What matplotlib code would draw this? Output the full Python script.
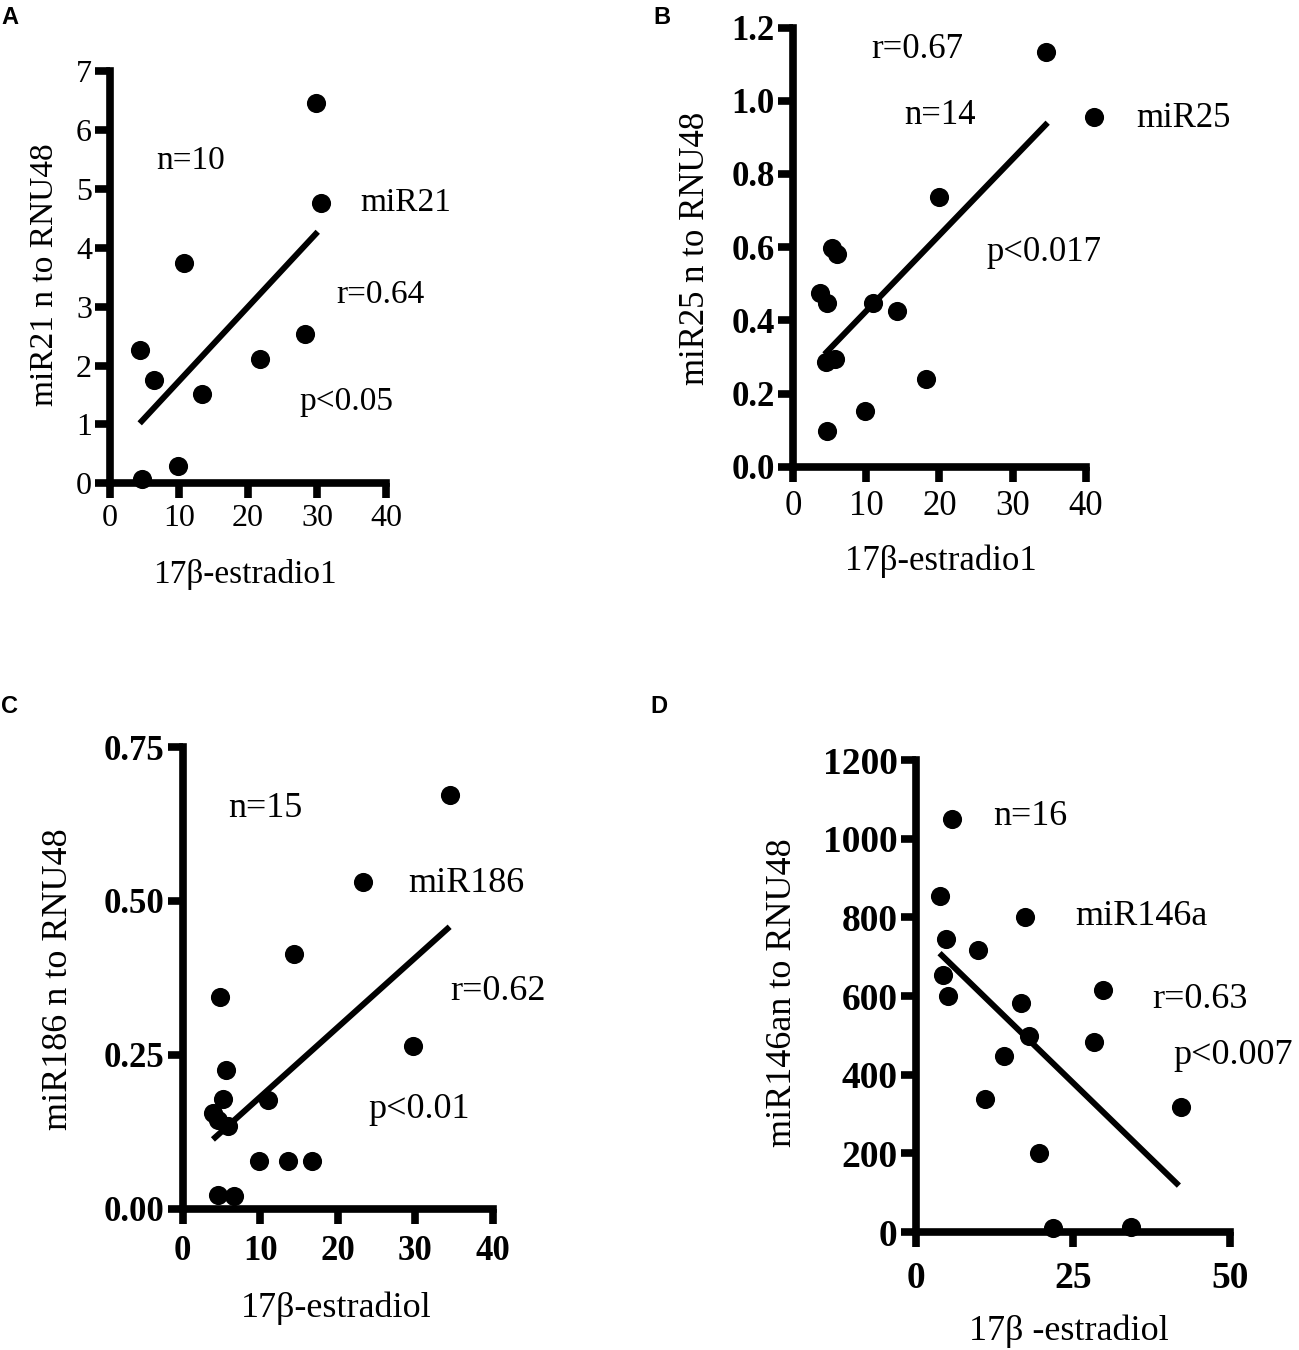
import matplotlib
matplotlib.use("Agg")
import matplotlib.pyplot as plt
import numpy as np

# ---------------- data ----------------
# Panel A: miR21
a_x = [29.9, 30.6, 10.7, 4.3, 6.3, 13.4, 21.7, 28.3, 9.8, 4.6]
a_y = [6.45, 4.76, 3.74, 2.27, 1.75, 1.51, 2.11, 2.53, 0.29, 0.08]
a_fit_x = [4.3, 30.1]
a_fit_y = [1.02, 4.27]

# Panel B: miR25
b_x = [34.6, 41.1, 19.9, 5.3, 6.0, 3.7, 4.7, 10.9, 14.2, 4.5, 5.8, 18.2, 9.8, 4.7]
b_y = [1.134, 0.956, 0.738, 0.597, 0.582, 0.474, 0.448, 0.448, 0.425, 0.286, 0.293, 0.239, 0.152, 0.097]
b_fit_x = [4.3, 34.8]
b_fit_y = [0.307, 0.94]

# Panel C: miR186
c_x = [34.4, 23.2, 14.3, 4.8, 29.7, 5.6, 5.2, 11.0, 3.9, 4.5, 5.9, 9.9, 13.6, 16.7, 4.5, 6.6]
c_y = [0.672, 0.530, 0.413, 0.344, 0.264, 0.226, 0.178, 0.176, 0.156, 0.144, 0.135, 0.078, 0.078, 0.078, 0.022, 0.021]
c_fit_x = [3.9, 34.4]
c_fit_y = [0.1125, 0.458]

# Panel D: miR146a
d_x = [5.8, 3.8, 17.4, 4.8, 9.9, 4.4, 5.2, 29.9, 16.7, 18.0, 14.0, 28.4, 11.0, 42.3, 19.6, 21.9, 34.3]
d_y = [1051, 855, 801, 745, 717, 654, 600, 616, 582, 499, 448, 484, 339, 317, 200, 10, 13]
d_fit_x = [3.8, 41.9]
d_fit_y = [709, 118]

a_yticks = [0, 1, 2, 3, 4, 5, 6, 7]
a_xticks = [0, 10, 20, 30, 40]
b_yticks = [0.0, 0.2, 0.4, 0.6, 0.8, 1.0, 1.2]
b_ytick_labels = ["0.0", "0.2", "0.4", "0.6", "0.8", "1.0", "1.2"]
b_xticks = [0, 10, 20, 30, 40]
c_yticks = [0.0, 0.25, 0.5, 0.75]
c_ytick_labels = ["0.00", "0.25", "0.50", "0.75"]
c_xticks = [0, 10, 20, 30, 40]
d_yticks = [0, 200, 400, 600, 800, 1000, 1200]
d_xticks = [0, 25, 50]

serif = "Liberation Serif"

fig = plt.figure(figsize=(12.99, 13.5), dpi=100)


def make_panel(rect, xs, ys, fx, fy, xlim, ylim, xticks, yticks, ytl,
               ylab, xlab, ylab_pos, xlab_pos, notes, fs, tfs, yw, xw, ms,
               xpad):
    ax = fig.add_axes(rect)
    ax.scatter(xs, ys, s=ms, color="black", zorder=3, clip_on=False,
               linewidths=0)
    ax.plot(fx, fy, color="black", lw=4.3, solid_capstyle="butt", zorder=2)
    ax.set_xlim(*xlim)
    ax.set_ylim(*ylim)
    ax.set_xticks(xticks)
    ax.set_yticks(yticks)
    ax.set_xticklabels([str(t) for t in xticks], fontfamily=serif,
                       fontsize=tfs, fontweight=xw)
    ax.set_yticklabels(ytl, fontfamily=serif, fontsize=tfs, fontweight=yw)
    for s in ["top", "right"]:
        ax.spines[s].set_visible(False)
    for s in ["left", "bottom"]:
        ax.spines[s].set_linewidth(5.5)
        ax.spines[s].set_capstyle("projecting")
    ax.tick_params(axis="both", direction="out", length=11, width=5.5,
                   color="black")
    ax.tick_params(axis="y", pad=2)
    ax.tick_params(axis="x", pad=xpad)
    ax.patch.set_alpha(0)
    ax.text(ylab_pos[0], ylab_pos[1], ylab, transform=ax.transAxes,
            rotation=90, ha="center", va="center", fontfamily=serif,
            fontsize=fs)
    ax.text(xlab_pos[0], xlab_pos[1], xlab, transform=ax.transAxes,
            ha="center", va="center", fontfamily=serif, fontsize=fs)
    for (tx, ty, t) in notes:
        ax.text(tx, ty, t, ha="center", va="center", fontfamily=serif,
                fontsize=fs, clip_on=False)
    return ax


make_panel([0.0847, 0.6419, 0.2125, 0.3056], a_x, a_y, a_fit_x, a_fit_y,
           (0, 40), (0, 7), a_xticks, a_yticks, [str(t) for t in a_yticks],
           "miR21 n to RNU48", "17\u03b2-estradio1", (-0.235, 0.505), (0.489, -0.22),
           [(11.7, 5.47, "n=10"), (42.8, 4.76, "miR21"), (39.2, 3.2, "r=0.64"),
            (34.3, 1.38, "p<0.05")], 24, 23, "normal", "normal", 190, 4)

make_panel([0.6105, 0.6543, 0.2253, 0.3253], b_x, b_y, b_fit_x, b_fit_y,
           (0, 40), (0, 1.2), b_xticks, b_yticks, b_ytick_labels,
           "miR25 n to RNU48", "17\u03b2-estradio1", (-0.333, 0.496), (0.504, -0.215),
           [(17.0, 1.139, "r=0.67"), (20.1, 0.961, "n=14"), (53.3, 0.951, "miR25"),
            (34.3, 0.584, "p<0.017")], 25, 25, "bold", "normal", 190, 6)

make_panel([0.1406, 0.1047, 0.2390, 0.3419], c_x, c_y, c_fit_x, c_fit_y,
           (0, 40), (0, 0.75), c_xticks, c_yticks, c_ytick_labels,
           "miR186 n to RNU48", "17\u03b2-estradiol", (-0.401, 0.497), (0.494, -0.215),
           [(10.7, 0.651, "n=15"), (36.6, 0.529, "miR186"), (40.6, 0.353, "r=0.62"),
            (30.5, 0.161, "p<0.01")], 26, 25, "bold", "bold", 190, 8)

make_panel([0.7049, 0.0874, 0.2418, 0.3496], d_x, d_y, d_fit_x, d_fit_y,
           (0, 50), (0, 1200), d_xticks, d_yticks, [str(t) for t in d_yticks],
           "miR146an to RNU48", "17\u03b2 -estradiol", (-0.423, 0.508), (0.488, -0.211),
           [(18.2, 1057, "n=16"), (36.0, 801, "miR146a"), (45.2, 591, "r=0.63"),
            (50.5, 448, "p<0.007")], 26, 27, "bold", "bold", 190, 10)

for (px, py, lab) in [(0.001, 0.9874, "A"), (0.503, 0.9874, "B"),
                      (0.001, 0.477, "C"), (0.501, 0.477, "D")]:
    fig.text(px, py, lab, fontfamily="Liberation Sans", fontweight="bold",
             fontsize=17, ha="left", va="center")

fig.savefig("out.png", dpi=100)
